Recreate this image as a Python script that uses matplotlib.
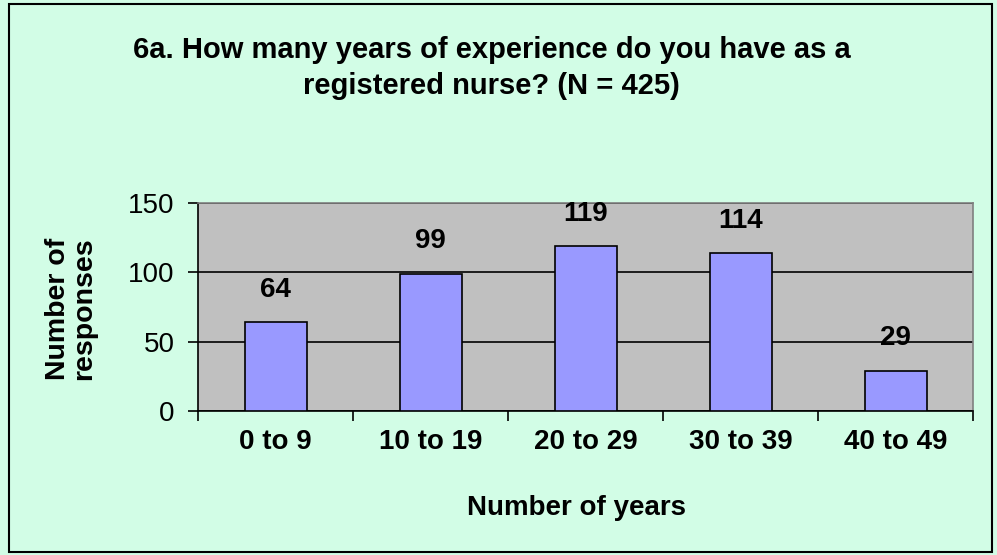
import matplotlib.pyplot as plt
from matplotlib.patches import Rectangle

# data
categories = ['0 to 9', '10 to 19', '20 to 29', '30 to 39', '40 to 49']
responses = [64, 99, 119, 114, 29]
y_ticks = [0, 50, 100, 150]

plt.rcParams['font.family'] = ['Liberation Sans', 'DejaVu Sans']

fig = plt.figure(figsize=(9.97, 5.55), dpi=100)
fig.patch.set_facecolor('#d2fde6')
fig.patches.append(Rectangle((0.009, 0.0054), 0.986, 0.987, transform=fig.transFigure,
                             fill=False, edgecolor='black', linewidth=1.5))

ax = fig.add_axes([0.1986, 0.2595, 0.7774, 0.3745])
ax.set_facecolor('#c0c0c0')

x = list(range(len(categories)))
ax.bar(x, responses, width=0.4, color='#9999ff', edgecolor='black', linewidth=1.2, zorder=3)
for xi, v in zip(x, responses):
    ax.annotate(str(v), (xi, v), xytext=(0, 14), textcoords='offset points',
                ha='center', va='bottom', fontsize=20, fontweight='bold')

ax.set_xlim(-0.5, len(categories) - 0.5)
ax.set_ylim(0, 150)
ax.set_yticks(y_ticks)
ax.set_yticklabels([str(t) for t in y_ticks], fontsize=20)
ax.yaxis.grid(True, color='black', linewidth=1.2, zorder=0)
ax.set_axisbelow(True)

ax.set_xticks([i + 0.5 for i in range(-1, len(categories))])
ax.set_xticklabels([])
ax.set_xticks(x, minor=True)
ax.set_xticklabels(categories, minor=True, fontsize=20, fontweight='bold')
ax.tick_params(axis='x', which='minor', length=0, pad=13)
ax.tick_params(axis='x', which='major', length=7, width=1.2, direction='out')
ax.tick_params(axis='y', length=7, width=1.2, direction='out', pad=10)

for s in ['top', 'right']:
    ax.spines[s].set_color('#808080')
    ax.spines[s].set_linewidth(1.2)
for s in ['left', 'bottom']:
    ax.spines[s].set_linewidth(1.2)

ax.set_ylabel('Number of\nresponses', fontsize=20.5, fontweight='bold', labelpad=22,
              linespacing=1.0)
ax.yaxis.label.set_y(0.49)
ax.set_xlabel('Number of years', fontsize=20, fontweight='bold', labelpad=29)
ax.xaxis.label.set_x(0.488)

fig.text(0.493, 0.878, '6a. How many years of experience do you have as a\nregistered nurse? (N = 425)',
         ha='center', va='center', fontsize=21, fontweight='bold', linespacing=1.35)

fig.savefig('out.png', dpi=100, facecolor=fig.get_facecolor())
